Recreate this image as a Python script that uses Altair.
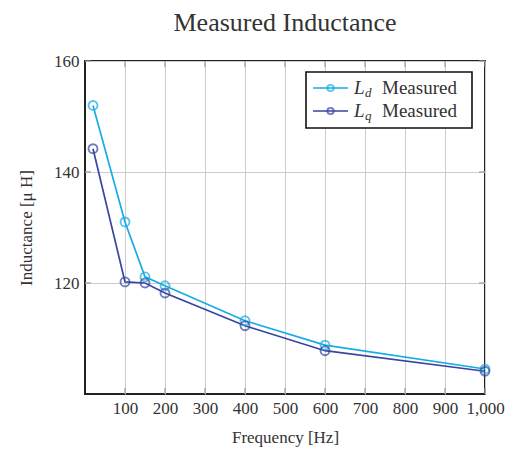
import altair as alt
import pandas as pd

# Measured inductance versus frequency
freq_hz = [20, 100, 150, 200, 400, 600, 1000]
ld_uh = [152.0, 131.0, 121.1, 119.5, 113.2, 108.8, 104.5]
lq_uh = [144.2, 120.2, 120.0, 118.2, 112.3, 107.8, 104.1]
series_names = ["Ld Measured", "Lq Measured"]
series_colors = ["#16ace6", "#3746a0"]
x_ticks = [100, 200, 300, 400, 500, 600, 700, 800, 900, 1000]
y_ticks = [120, 140, 160]

rows = []
for name, vals in zip(series_names, [ld_uh, lq_uh]):
    for f, v in zip(freq_hz, vals):
        rows.append({"series": name, "freq": f, "L": v})
df = pd.DataFrame(rows)

FONT = "Liberation Serif"
TXT = "#333333"
W, H = 400, 333
TICK = 6

x_scale = alt.Scale(domain=[0, 1000], nice=False)
y_scale = alt.Scale(domain=[100, 160], nice=False, zero=False)

x_enc = alt.X(
    "freq:Q", scale=x_scale,
    axis=alt.Axis(
        values=x_ticks, format=",d", title="Frequency [Hz]", domain=False,
        ticks=False, labelPadding=6, titlePadding=13, gridColor="#cccccc",
        gridWidth=1, labelFont=FONT, titleFont=FONT, labelFontSize=17,
        titleFontSize=17, labelColor=TXT, titleColor=TXT,
        titleFontWeight="normal", labelOverlap=False, labelFlush=False,
    ),
)
y_enc = alt.Y(
    "L:Q", scale=y_scale,
    axis=alt.Axis(
        values=y_ticks, title="Inductance [μ H]", domain=False, ticks=False,
        labelPadding=6, titlePadding=18, gridColor="#cccccc", gridWidth=1,
        labelFont=FONT, titleFont=FONT, labelFontSize=17, titleFontSize=17,
        labelColor=TXT, titleColor=TXT, titleFontWeight="normal",
        labelOverlap=False, labelFlush=False,
    ),
)
color_scale = alt.Scale(domain=series_names, range=series_colors)
color_enc = alt.Color("series:N", scale=color_scale, legend=None)

# Inward tick marks on all four sides of the frame
xt = alt.Chart(pd.DataFrame({"t": x_ticks}))
yt = alt.Chart(pd.DataFrame({"t": y_ticks}))
tick_style = dict(color="#999999", strokeWidth=1.2)
ticks_bottom = xt.mark_rule(**tick_style).encode(
    x=alt.X("t:Q", scale=x_scale), y=alt.value(H), y2=alt.value(H - TICK))
ticks_top = xt.mark_rule(**tick_style).encode(
    x=alt.X("t:Q", scale=x_scale), y=alt.value(0), y2=alt.value(TICK))
ticks_left = yt.mark_rule(**tick_style).encode(
    y=alt.Y("t:Q", scale=y_scale), x=alt.value(0), x2=alt.value(TICK))
ticks_right = yt.mark_rule(**tick_style).encode(
    y=alt.Y("t:Q", scale=y_scale), x=alt.value(W), x2=alt.value(W - TICK))

base = alt.Chart(df).encode(x=x_enc, y=y_enc, color=color_enc)
lines = base.mark_line(strokeWidth=1.7)
points = base.mark_point(shape="circle", filled=False, size=80, strokeWidth=1.9)

# Legend box drawn in the upper-right corner of the plot
leg_df = pd.DataFrame({
    "series": series_names,
    "row": [0, 1],
    "sub": ["d", "q"],
})
LX, LY, LW, LH = 221, 11, 166, 56
leg_box = alt.Chart(pd.DataFrame({"k": [0]})).mark_rect(
    fill="white", stroke="#111111", strokeWidth=1.6
).encode(
    x=alt.value(LX), x2=alt.value(LX + LW), y=alt.value(LY), y2=alt.value(LY + LH)
)
leg_base = alt.Chart(leg_df).transform_calculate(
    yy=f"{LY + 16} + datum.row * 23"
)
leg_color = alt.Color("series:N", scale=color_scale, legend=None)
leg_line = leg_base.mark_rule(strokeWidth=1.7).encode(
    x=alt.value(LX + 7), x2=alt.value(LX + 42),
    y=alt.Y("yy:Q", scale=None), color=leg_color,
)
leg_pt = leg_base.mark_point(shape="circle", filled=False, size=40, strokeWidth=1.9).encode(
    x=alt.value(LX + 24.5), y=alt.Y("yy:Q", scale=None), color=leg_color,
)
leg_L = leg_base.mark_text(
    text="L", font=FONT, fontSize=19, fontStyle="italic", align="left",
    baseline="middle", color=TXT,
).encode(x=alt.value(LX + 48), y=alt.Y("yy:Q", scale=None))
leg_sub = leg_base.mark_text(
    font=FONT, fontSize=13, fontStyle="italic", align="left",
    baseline="middle", color=TXT, dy=5,
).encode(x=alt.value(LX + 59), y=alt.Y("yy:Q", scale=None), text="sub:N")
leg_txt = leg_base.mark_text(
    text="Measured", font=FONT, fontSize=19, align="left",
    baseline="middle", color=TXT,
).encode(x=alt.value(LX + 76), y=alt.Y("yy:Q", scale=None))

chart = alt.layer(
    ticks_bottom, ticks_top, ticks_left, ticks_right,
    lines, points, leg_box, leg_line, leg_pt, leg_L, leg_sub, leg_txt
).properties(
    width=W, height=H,
    background="white",
    title=alt.TitleParams(
        "Measured Inductance", font=FONT, fontSize=26, fontWeight="normal",
        color=TXT, offset=16, anchor="middle",
    ),
    autosize=alt.AutoSizeParams(type="none"),
    padding={"left": 85, "top": 61, "right": 20, "bottom": 56},
).configure_view(
    stroke="#222222", strokeWidth=2
)

chart.save("out.html", embed_options={"renderer": "svg", "actions": False})
